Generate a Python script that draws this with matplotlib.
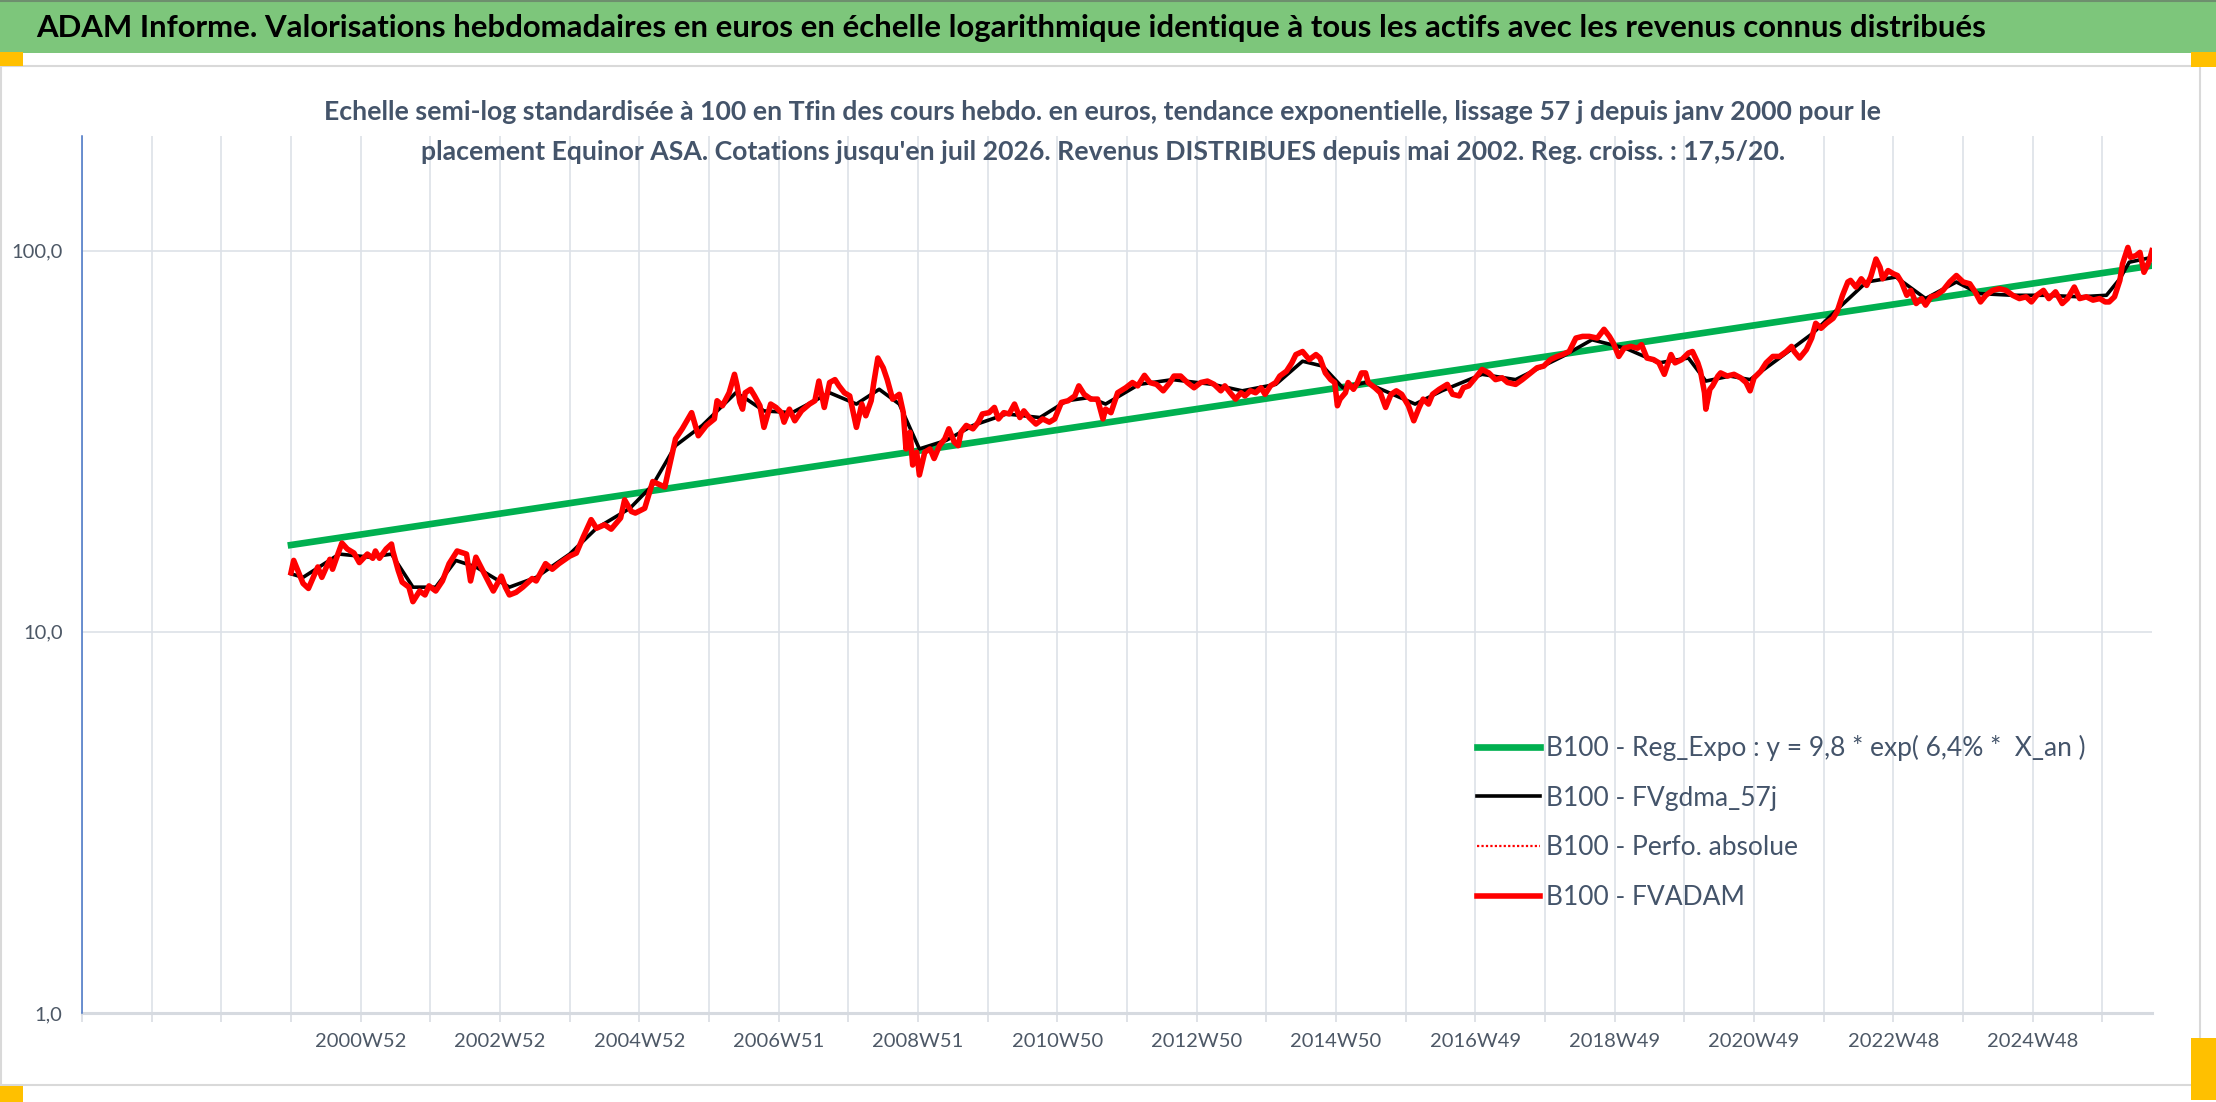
import matplotlib
matplotlib.use("Agg")
import matplotlib.pyplot as plt
from matplotlib.patches import Rectangle
from matplotlib.lines import Line2D
from matplotlib.ticker import FixedLocator, FuncFormatter, NullLocator

plt.rcParams['font.family'] = ['Lato', 'DejaVu Sans']

# ---------------- data ----------------
title = ("ADAM Informe. Valorisations hebdomadaires en euros en échelle logarithmique "
         "identique à tous les actifs avec les revenus connus distribués")
subtitle_1 = ("Echelle semi-log standardisée à 100 en Tfin des cours hebdo. en euros, tendance "
              "exponentielle, lissage 57 j depuis janv 2000 pour le")
subtitle_2 = ("placement Equinor ASA. Cotations jusqu'en juil 2026. Revenus DISTRIBUES depuis "
              "mai 2002. Reg. croiss. : 17,5/20.")

x_tick_labels = ['2000W52', '2002W52', '2004W52', '2006W51', '2008W51', '2010W50', '2012W50',
                 '2014W50', '2016W49', '2018W49', '2020W49', '2022W48', '2024W48']
y_ticks = [1, 10, 100]

legend_labels = ['B100 - Reg_Expo : y = 9,8 * exp( 6,4% *  X_an )',
                 'B100 - FVgdma_57j',
                 'B100 - Perfo. absolue',
                 'B100 - FVADAM']

# week index on the category axis (0 = first category) and value (base 100)
fvadam_week = [
    156, 158, 165, 169, 176, 179, 185, 187, 191, 194,
    198, 203, 207, 213, 217, 219, 222, 227, 231, 232,
    236, 239, 244, 247, 252, 256, 259, 264, 269, 274,
    280, 287, 290, 294, 299, 304, 307, 313, 316, 319,
    324, 329, 336, 339, 346, 351, 356, 364, 369, 374,
    380, 384, 390, 395, 402, 405, 410, 413, 420, 426,
    435, 438, 443, 448, 455, 460, 466, 472, 474, 478,
    483, 487, 489, 491, 493, 495, 499, 502, 506, 509,
    514, 518, 522, 524, 528, 532, 537, 543, 547, 550,
    554, 558, 562, 565, 569, 573, 578, 582, 585, 589,
    591, 594, 598, 601, 605, 610, 613, 615, 618, 620,
    623, 625, 629, 633, 636, 640, 644, 647, 651, 654,
    656, 660, 665, 669, 672, 677, 681, 684, 688, 692,
    696, 700, 703, 707, 712, 717, 722, 726, 731, 736,
    741, 744, 748, 753, 758, 762, 764, 768, 773, 779,
    784, 788, 793, 797, 802, 807, 812, 815, 820, 825,
    830, 835, 840, 845, 850, 853, 857, 861, 865, 868,
    872, 876, 880, 883, 887, 891, 894, 899, 903, 906,
    911, 916, 921, 924, 928, 932, 935, 937, 939, 943,
    945, 949, 952, 955, 958, 960, 965, 969, 973, 977,
    981, 985, 990, 994, 998, 1001, 1005, 1008, 1013, 1019,
    1023, 1028, 1031, 1035, 1040, 1045, 1050, 1055, 1060, 1064,
    1070, 1075, 1080, 1086, 1091, 1096, 1101, 1105, 1110, 1115,
    1120, 1125, 1131, 1136, 1140, 1143, 1147, 1151, 1156, 1161,
    1164, 1168, 1173, 1177, 1181, 1186, 1189, 1194, 1199, 1202,
    1206, 1208, 1211, 1212, 1215, 1217, 1221, 1223, 1228, 1233,
    1238, 1242, 1245, 1248, 1253, 1257, 1262, 1267, 1272, 1276,
    1278, 1282, 1287, 1291, 1294, 1298, 1302, 1307, 1310, 1314,
    1318, 1320, 1324, 1328, 1332, 1335, 1339, 1342, 1344, 1348,
    1352, 1355, 1358, 1362, 1365, 1369, 1373, 1376, 1380, 1384,
    1389, 1394, 1399, 1404, 1409, 1413, 1417, 1421, 1426, 1431,
    1436, 1441, 1446, 1451, 1455, 1459, 1464, 1468, 1473, 1478,
    1482, 1487, 1491, 1496, 1501, 1506, 1510, 1513, 1517, 1521,
    1523, 1527, 1529, 1533, 1536, 1539, 1542, 1543, 1545]
fvadam_value = [
    14.3, 15.4, 13.4, 13.0, 14.8, 13.9, 15.5, 14.6, 16.0, 17.1,
    16.5, 16.1, 15.2, 16.0, 15.6, 16.3, 15.6, 16.5, 17.0, 16.3,
    14.5, 13.5, 13.1, 12.0, 12.8, 12.5, 13.2, 12.8, 13.6, 15.1,
    16.3, 16.0, 13.6, 15.7, 14.5, 13.4, 12.8, 14.0, 13.1, 12.5,
    12.7, 13.1, 13.8, 13.6, 15.1, 14.6, 15.1, 15.8, 16.1, 17.7,
    19.7, 18.7, 19.1, 18.6, 19.9, 22.2, 20.7, 20.5, 21.1, 24.8,
    24.0, 26.8, 32.1, 34.1, 37.6, 32.7, 34.8, 36.2, 40.4, 39.2,
    42.4, 47.4, 44.2, 40.0, 38.4, 42.4, 43.3, 41.6, 39.2, 34.4,
    39.6, 38.8, 37.6, 35.5, 38.4, 35.8, 38.0, 39.6, 40.4, 45.5,
    38.8, 45.1, 45.9, 44.2, 42.4, 41.6, 34.4, 39.6, 36.9, 40.4,
    45.1, 52.3, 49.3, 45.9, 40.8, 42.0, 37.6, 30.2, 33.4, 27.4,
    29.6, 25.8, 29.6, 30.2, 28.5, 30.8, 32.1, 34.1, 31.5, 30.8,
    33.4, 34.8, 34.1, 35.5, 37.3, 37.6, 38.8, 36.2, 37.6, 37.3,
    39.6, 36.5, 38.0, 36.5, 35.1, 36.2, 35.5, 36.2, 40.0, 40.4,
    41.6, 44.2, 42.0, 40.8, 40.8, 36.2, 38.4, 37.6, 42.4, 43.7,
    45.1, 44.2, 47.1, 45.1, 44.6, 42.9, 45.1, 46.9, 46.9, 45.1,
    43.7, 45.1, 45.5, 44.6, 42.9, 44.2, 42.4, 40.8, 42.4, 41.6,
    42.9, 42.4, 43.7, 42.0, 44.2, 45.1, 46.9, 48.3, 50.8, 53.4,
    54.4, 51.8, 53.4, 52.3, 47.8, 45.9, 45.1, 39.2, 40.8, 42.4,
    45.1, 43.3, 45.1, 47.8, 47.8, 45.1, 43.7, 42.4, 38.8, 42.0,
    42.9, 42.0, 39.2, 35.8, 38.8, 40.8, 39.6, 42.0, 43.3, 44.6,
    42.0, 41.6, 43.7, 44.2, 46.4, 48.8, 47.8, 45.9, 46.4, 45.1,
    44.6, 45.9, 47.4, 49.3, 49.8, 51.8, 52.8, 53.4, 54.4, 59.0,
    59.6, 59.6, 59.0, 62.2, 59.6, 57.2, 52.8, 55.5, 56.1, 55.5,
    56.7, 52.3, 51.8, 50.8, 47.4, 53.4, 50.8, 51.8, 53.9, 54.4,
    50.8, 48.3, 42.4, 38.4, 43.3, 44.2, 46.9, 47.8, 46.9, 47.4,
    46.4, 45.1, 42.9, 46.4, 48.3, 50.8, 52.8, 52.8, 54.4, 56.1,
    54.4, 52.3, 55.0, 59.0, 64.5, 62.6, 64.5, 66.5, 69.2, 76.4,
    82.8, 83.6, 80.3, 84.4, 81.1, 85.3, 95.1, 90.5, 84.4, 88.7,
    87.0, 86.1, 82.8, 76.4, 78.7, 72.7, 74.9, 72.0, 75.7, 76.4,
    78.7, 82.8, 86.1, 82.8, 81.9, 78.0, 73.4, 76.4, 78.7, 79.5,
    78.7, 76.4, 74.9, 75.7, 73.4, 76.4, 78.7, 74.9, 78.0, 72.7,
    74.9, 80.3, 74.9, 75.7, 74.2, 74.9, 73.4, 73.4, 75.7, 83.6,
    92.3, 102.0, 96.1, 97.1, 99.0, 87.8, 92.3, 94.2, 100.0]

fvgdma_week = [
    156, 165, 192, 215, 231, 247, 264, 279, 294, 319,
    339, 364, 384, 409, 426, 443, 463, 488, 496, 509,
    530, 558, 578, 595, 610, 625, 645, 665, 690, 715,
    735, 752, 764, 789, 814, 844, 866, 891, 911, 926,
    941, 958, 995, 1015, 1045, 1070, 1105, 1127, 1152, 1177,
    1199, 1212, 1230, 1245, 1267, 1292, 1312, 1332, 1354, 1376,
    1399, 1416, 1441, 1466, 1491, 1511, 1521, 1528, 1545]
fvgdma_value = [
    14.2, 13.9, 16.0, 15.7, 16.0, 13.1, 13.1, 15.4, 14.8, 13.1,
    13.9, 16.0, 18.7, 21.1, 24.3, 30.8, 34.8, 42.4, 40.8, 38.0,
    37.6, 42.4, 39.6, 43.3, 39.6, 30.2, 31.8, 34.8, 37.3, 36.5,
    40.4, 41.2, 39.6, 44.6, 45.9, 44.6, 42.9, 44.6, 51.3, 49.8,
    43.7, 45.1, 39.6, 42.9, 47.4, 45.9, 52.8, 58.4, 55.5, 50.8,
    52.3, 45.5, 46.9, 45.9, 52.3, 60.8, 71.2, 82.8, 85.3, 74.9,
    82.8, 77.2, 76.4, 76.4, 75.7, 76.4, 84.4, 93.3, 96.1]

reg_week = [156, 1545]
reg_value = [16.9, 91.4]

# ---------------- layout ----------------
W, H = 2216, 1102
fig = plt.figure(figsize=(W / 100, H / 100), dpi=100)
fig.patch.set_facecolor('white')


def fx(px):
    return px / W


def fy(py):
    return 1 - py / H


def fig_rect(x, y, w, h, **kw):
    fig.add_artist(Rectangle((fx(x), fy(y + h)), w / W, h / H,
                             transform=fig.transFigure, **kw))


# green title band
fig_rect(0, 0, W, 53, facecolor='#7DC67B', edgecolor='none', zorder=0)
fig.add_artist(Line2D([0, 1], [fy(1), fy(1)], transform=fig.transFigure,
                      color='#6E8F6E', lw=1.5))
# chart frame
fig_rect(1, 66, 2199, 1019, facecolor='none', edgecolor='#D9D9D9', lw=1.5, zorder=0)
# selection handles (orange)
for (x, y, w, h) in [(0, 52, 23, 14), (2191, 52, 25, 15), (2191, 1038, 25, 62), (0, 1086, 23, 16)]:
    fig_rect(x, y, w, h, facecolor='#FFC000', edgecolor='none', zorder=1)

t_title = fig.text(fx(36), fy(28), title, ha='left', va='center',
                   fontsize=24, fontweight='bold', color='black')
t_sub1 = fig.text(fx(1103), fy(111.7), subtitle_1, ha='center', va='center',
                  fontsize=16, fontweight='bold', color='#44546A', zorder=5)
t_sub2 = fig.text(fx(1103), fy(151.7), subtitle_2, ha='center', va='center',
                  fontsize=16, fontweight='bold', color='#44546A', zorder=5)

ax_left, ax_right, ax_top, ax_bottom = 82, 2152, 136, 1013
ax = fig.add_axes([fx(ax_left), fy(ax_bottom), (ax_right - ax_left) / W, (ax_bottom - ax_top) / H])
ax.set_facecolor('none')
ax.set_yscale('log')
ax.set_ylim(1, 200)
ax.set_xlim(0, 1545)

l_reg, = ax.plot(reg_week, reg_value, color='#00B050', lw=4.8, zorder=2)
l_gdma, = ax.plot(fvgdma_week, fvgdma_value, color='black', lw=2.6, zorder=3)
l_adam, = ax.plot(fvadam_week, fvadam_value, color='#FF0000', lw=4.0, zorder=4,
                  solid_joinstyle='round')
l_perf = Line2D([], [], color='#FF0000', lw=1.6, ls=(0, (1, 1)))

# axes styling
grid_col = '#DDE1E8'
tick_pos = list(range(0, 1546, 52))
label_map = {208 + 104 * i: lab for i, lab in enumerate(x_tick_labels)}
ax.xaxis.set_major_locator(FixedLocator(tick_pos))
ax.set_xticklabels([label_map.get(p, '') for p in tick_pos])
ax.yaxis.set_major_locator(FixedLocator(y_ticks))
ax.yaxis.set_minor_locator(NullLocator())
ax.yaxis.set_major_formatter(FuncFormatter(lambda v, p: f'{v:.1f}'.replace('.', ',')))
ax.set_axisbelow(True)
ax.grid(True, axis='both', which='major', color=grid_col, lw=1.2)
for s in ['top', 'right']:
    ax.spines[s].set_visible(False)
ax.spines['left'].set_color('#4472C4')
ax.spines['left'].set_linewidth(1.1)
ax.spines['left'].set_zorder(5)
ax.spines['bottom'].set_color('#D6DAE0')
ax.spines['bottom'].set_linewidth(2.2)
ax.tick_params(axis='x', length=6.5, width=1.1, color='#D6DAE0', labelsize=14.5,
               labelcolor='#4D5866', pad=8)
ax.tick_params(axis='y', length=0, labelsize=14.5, labelcolor='#4D5866', pad=14)

# ---------------- fit text widths ----------------
fig.canvas.draw()
r = fig.canvas.get_renderer()


def fit_width(t, target):
    w = t.get_window_extent(r).width
    t.set_fontsize(t.get_fontsize() * target / w)


fit_width(t_title, 1952)
fit_width(t_sub1, 1565)
t_sub2.set_fontsize(t_sub1.get_fontsize())

tmp = fig.text(0, 0, legend_labels[0], fontsize=18)
F = 18 * 541 / tmp.get_window_extent(r).width
tmp.remove()
Fpx = F * 100 / 72

handles = [l_reg, l_gdma, l_perf, l_adam]


def make_legend(anchor, spacing):
    leg = ax.legend(handles, legend_labels, loc='upper left', bbox_to_anchor=anchor,
                    frameon=False, fontsize=F, handlelength=63 / Fpx,
                    handletextpad=6.5 / Fpx, labelspacing=spacing, borderpad=0,
                    borderaxespad=0, labelcolor='#44546A')
    return leg


ax_w, ax_h = ax_right - ax_left, ax_bottom - ax_top
anchor = ((1476.7 - ax_left) / ax_w, (ax_bottom - 732) / ax_h)
spacing = 0.8
leg = make_legend(anchor, spacing)
fig.canvas.draw()
cs = [t.get_window_extent(r) for t in leg.get_texts()]
pitch = ((cs[0].y0 + cs[0].y1) / 2 - (cs[3].y0 + cs[3].y1) / 2) / 3
spacing += (50 - pitch) / Fpx
leg.remove()
leg = make_legend(anchor, spacing)
fig.canvas.draw()
c0 = leg.get_texts()[0].get_window_extent(r)
bb = leg.get_window_extent(r)
dy = (H - 747.7) - (c0.y0 + c0.y1) / 2
dx = 1476.7 - bb.x0
anchor = (anchor[0] + dx / ax_w, anchor[1] + dy / ax_h)
leg.remove()
leg = make_legend(anchor, spacing)

fig.savefig('out.png', dpi=100)
